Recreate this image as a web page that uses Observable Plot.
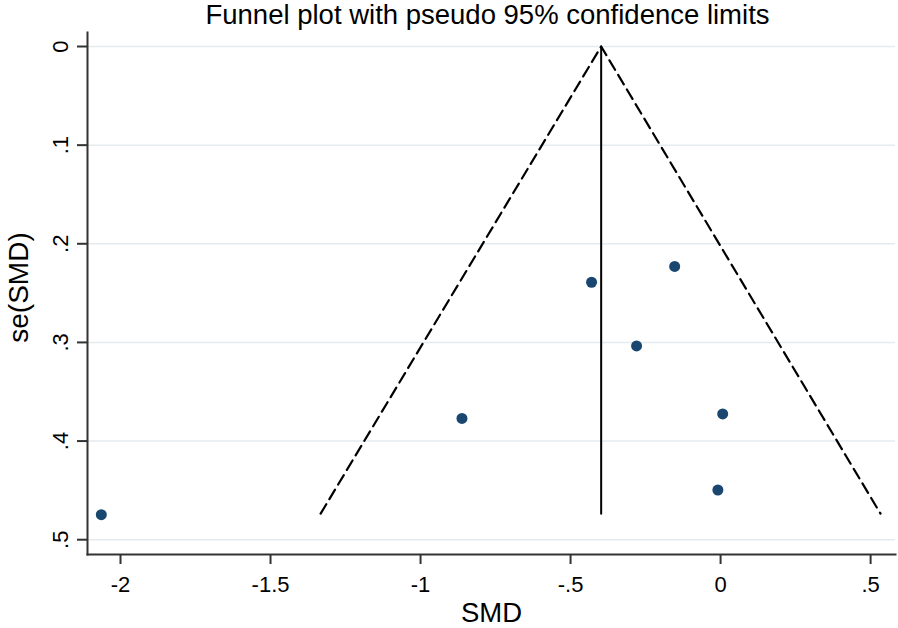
<!DOCTYPE html>
<html>
<head>
<meta charset="utf-8">
<script src="https://cdn.jsdelivr.net/npm/d3@7"></script>
<script src="https://cdn.jsdelivr.net/npm/@observablehq/plot@0.6"></script>
<style>
  body { margin: 0; background: #fff; font-family: "Liberation Sans", Arial, sans-serif; }
  #title { height: 28px; line-height: 30px; font-size: 27.5px; text-align: center; padding-left: 80px; padding-right: 3px; color: #000; white-space: nowrap; overflow: visible; }
</style>
</head>
<body>
<div id="title">Funnel plot with pseudo 95% confidence limits</div>
<div id="chart"></div>
<script>
// Study estimates
const smd = [-2.064, -0.862, -0.43, -0.153, -0.28, 0.007, -0.009];
const seSMD = [0.4746, 0.377, 0.239, 0.223, 0.3035, 0.3725, 0.4496];

// Pseudo 95% confidence limit lines (left end, apex, right end) and pooled estimate
const funnelX = [-1.333, -0.398, 0.533];
const funnelSE = [0.4736, 0, 0.4736];
const pooledX = [-0.398, -0.398];
const pooledSE = [0, 0.4736];

// Ticks
const xTicks = [-2, -1.5, -1, -0.5, 0, 0.5];
const xTickLabels = ["-2", "-1.5", "-1", "-.5", "0", ".5"];
const yTicks = [0, 0.1, 0.2, 0.3, 0.4, 0.5];
const yTickLabels = ["0", ".1", ".2", ".3", ".4", ".5"];

const points = smd.map((x, i) => ({x, se: seSMD[i]}));
const funnel = funnelX.map((x, i) => ({x, se: funnelSE[i]}));
const pooled = pooledX.map((x, i) => ({x, se: pooledSE[i]}));

const chart = Plot.plot({
  width: 898,
  height: 600,
  marginTop: 4,
  marginBottom: 74,
  marginLeft: 87,
  marginRight: 3,
  style: {fontFamily: "Liberation Sans, Arial, sans-serif", background: "#fff", color: "#000"},
  x: {domain: [-2.11, 0.583]},
  y: {domain: [-0.0142, 0.515], reverse: true},
  marks: [
    Plot.gridY(yTicks, {stroke: "#e3ebef", strokeOpacity: 1, strokeWidth: 1.5}),
    Plot.line(funnel, {x: "x", y: "se", stroke: "#000", strokeWidth: 2.2, strokeDasharray: "11,6"}),
    Plot.line(pooled, {x: "x", y: "se", stroke: "#000", strokeWidth: 2}),
    Plot.dot(points, {x: "x", y: "se", r: 5.5, fill: "#1a476f", stroke: "none"}),
    Plot.frame({anchor: "left", stroke: "#333", strokeWidth: 2}),
    Plot.frame({anchor: "bottom", stroke: "#333", strokeWidth: 2}),
    Plot.axisX({ticks: xTicks, tickFormat: d => xTickLabels[xTicks.indexOf(d)], tickSize: 10, tickPadding: 12, fontSize: 22, stroke: "#333", strokeWidth: 2, label: null}),
    Plot.axisY({ticks: yTicks, tickFormat: () => "", tickSize: 10, stroke: "#333", strokeWidth: 2, label: null}),
    Plot.text(yTicks, {y: d => d, frameAnchor: "left", text: (d, i) => yTickLabels[i], rotate: -90, dx: -20, lineAnchor: "bottom", textAnchor: "middle", fontSize: 22, fill: "#000"}),
    Plot.text(["SMD"], {text: d => d, frameAnchor: "bottom", dy: 48, lineAnchor: "top", textAnchor: "middle", fontSize: 27.5, fill: "#000"}),
    Plot.text(["se(SMD)"], {text: d => d, frameAnchor: "left", rotate: -90, dx: -68, dy: -6, textAnchor: "middle", lineAnchor: "middle", fontSize: 28, fill: "#000"})
  ]
});
document.getElementById("chart").appendChild(chart);
</script>
</body>
</html>
